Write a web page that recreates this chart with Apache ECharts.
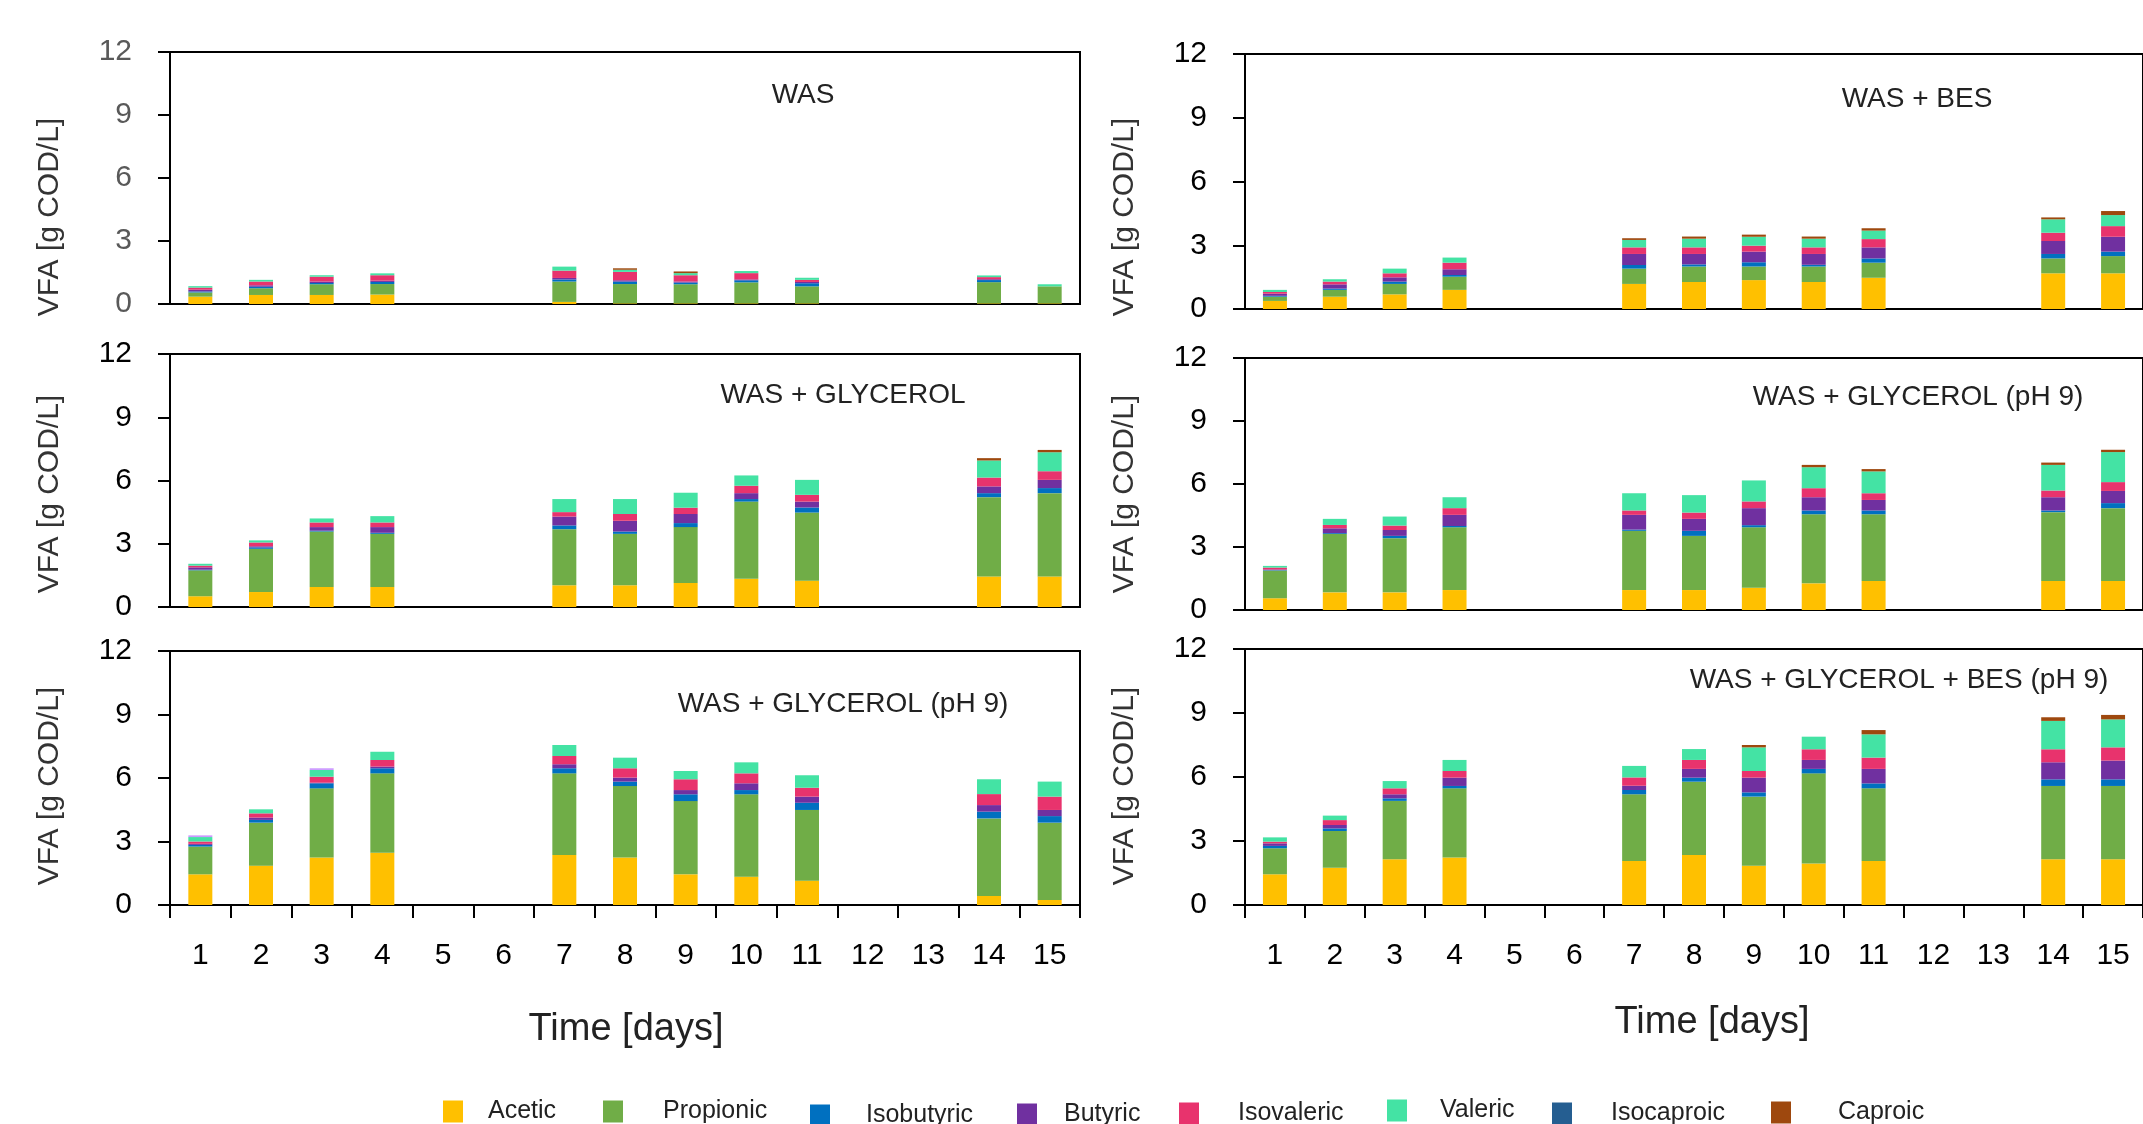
<!DOCTYPE html>
<html>
<head>
<meta charset="utf-8">
<script src="https://cdn.jsdelivr.net/npm/echarts@6/dist/echarts.min.js"></script>
<style>
html,body{margin:0;padding:0;background:#fff;}
#chart{width:2143px;height:1124px;}
</style>
</head>
<body>
<div id="chart"></div>
<script>
// ---------- data ----------
const days = ['1','2','3','4','5','6','7','8','9','10','11','12','13','14','15'];
const panelTitles = ['WAS', 'WAS + BES', 'WAS + GLYCEROL', 'WAS + GLYCEROL (pH 9)', 'WAS + GLYCEROL (pH 9)', 'WAS + GLYCEROL + BES (pH 9)'];
const acidNames = ['Acetic','Propionic','Isobutyric','Butyric','Isovaleric','Valeric','Isocaproic','Caproic'];
const _ = null;
// each acid: one row per panel (order of panelTitles), one value per day [g COD/L]
const acetic = [
  [0.35,0.43,0.43,0.45,_,_,0.10,0.03,0.03,0.03,0.03,_,_,0.03,0.03],
  [0.38,0.58,0.69,0.90,_,_,1.18,1.27,1.36,1.27,1.47,_,_,1.68,1.68],
  [0.51,0.71,0.95,0.95,_,_,1.03,1.03,1.14,1.34,1.25,_,_,1.45,1.45],
  [0.56,0.84,0.84,0.95,_,_,0.95,0.95,1.06,1.27,1.38,_,_,1.38,1.38],
  [1.45,1.86,2.24,2.47,_,_,2.36,2.24,1.45,1.34,1.15,_,_,0.43,0.24],
  [1.44,1.75,2.14,2.23,_,_,2.06,2.34,1.84,1.95,2.06,_,_,2.14,2.14]
];
const propionic = [
  [0.20,0.32,0.51,0.50,_,_,0.97,0.92,0.91,1.00,0.81,_,_,1.01,0.81],
  [0.20,0.32,0.49,0.62,_,_,0.72,0.73,0.64,0.73,0.71,_,_,0.70,0.81],
  [1.23,2.05,2.63,2.52,_,_,2.66,2.44,2.65,3.66,3.23,_,_,3.76,3.95],
  [1.32,2.78,2.58,2.99,_,_,2.82,2.58,2.88,3.29,3.18,_,_,3.28,3.47],
  [1.31,2.03,3.27,3.75,_,_,3.86,3.38,3.46,3.89,3.34,_,_,3.66,3.65],
  [1.22,1.72,2.74,3.24,_,_,3.13,3.44,3.24,4.22,3.41,_,_,3.44,3.44]
];
const isobutyric = [
  [0.05,0.07,0.06,0.10,_,_,0.10,0.12,0.08,0.10,0.15,_,_,0.10,0.00],
  [0.04,0.06,0.11,0.08,_,_,0.17,0.10,0.20,0.08,0.20,_,_,0.21,0.21],
  [0.03,0.07,0.04,0.05,_,_,0.18,0.11,0.19,0.12,0.24,_,_,0.19,0.24],
  [0.02,0.04,0.11,0.06,_,_,0.06,0.24,0.10,0.18,0.18,_,_,0.08,0.24],
  [0.08,0.13,0.24,0.24,_,_,0.24,0.21,0.32,0.20,0.34,_,_,0.32,0.31],
  [0.11,0.12,0.12,0.11,_,_,0.20,0.19,0.20,0.21,0.23,_,_,0.31,0.31]
];
const butyric = [
  [0.08,0.07,0.07,0.06,_,_,0.07,0.06,0.05,0.04,0.06,_,_,0.04,0.00],
  [0.10,0.20,0.20,0.27,_,_,0.52,0.49,0.50,0.51,0.52,_,_,0.61,0.70],
  [0.11,0.05,0.17,0.27,_,_,0.42,0.51,0.43,0.28,0.28,_,_,0.32,0.39],
  [0.03,0.23,0.28,0.53,_,_,0.70,0.57,0.81,0.63,0.50,_,_,0.63,0.58],
  [0.05,0.11,0.03,0.08,_,_,0.19,0.19,0.20,0.32,0.29,_,_,0.31,0.29],
  [0.12,0.16,0.19,0.39,_,_,0.20,0.41,0.69,0.42,0.68,_,_,0.80,0.88]
];
const isovaleric = [
  [0.10,0.18,0.23,0.26,_,_,0.35,0.40,0.30,0.30,0.10,_,_,0.10,0.00],
  [0.08,0.13,0.19,0.31,_,_,0.31,0.31,0.28,0.31,0.39,_,_,0.39,0.50],
  [0.08,0.18,0.22,0.22,_,_,0.21,0.32,0.30,0.35,0.32,_,_,0.42,0.41],
  [0.09,0.16,0.21,0.32,_,_,0.21,0.30,0.32,0.43,0.32,_,_,0.32,0.42],
  [0.11,0.20,0.28,0.31,_,_,0.39,0.44,0.51,0.47,0.42,_,_,0.52,0.63],
  [0.08,0.23,0.28,0.31,_,_,0.39,0.42,0.31,0.50,0.53,_,_,0.61,0.62]
];
const valeric = [
  [0.07,0.08,0.07,0.09,_,_,0.19,0.10,0.10,0.10,0.10,_,_,0.08,0.10],
  [0.10,0.11,0.22,0.24,_,_,0.35,0.41,0.42,0.41,0.40,_,_,0.63,0.52],
  [0.09,0.10,0.19,0.30,_,_,0.62,0.71,0.71,0.49,0.71,_,_,0.81,0.90],
  [0.08,0.29,0.43,0.52,_,_,0.82,0.83,1.00,1.00,1.04,_,_,1.22,1.43],
  [0.21,0.19,0.32,0.39,_,_,0.52,0.50,0.39,0.52,0.59,_,_,0.70,0.71],
  [0.20,0.21,0.34,0.52,_,_,0.54,0.51,1.11,0.59,1.09,_,_,1.33,1.31]
];
const isocaproic = [
  [0,0,0,0,_,_,0,0,0,0,0,_,_,0,0],
  [0,0,0,0,_,_,0,0,0,0,0,_,_,0,0],
  [0,0,0,0,_,_,0,0,0,0,0,_,_,0,0],
  [0,0,0,0,_,_,0,0,0,0,0,_,_,0,0],
  [0,0,0,0,_,_,0,0,0,0,0,_,_,0,0],
  [0,0,0,0,_,_,0,0,0,0,0,_,_,0,0]
];
const caproic = [
  [0,0,0,0,_,_,0,0.07,0.08,0,0,_,_,0,0],
  [0,0,0,0,_,_,0.08,0.10,0.10,0.10,0.11,_,_,0.09,0.19],
  [0,0,0,0,_,_,0,0,0,0,0,_,_,0.11,0.11],
  [0,0,0,0,_,_,0,0,0,0.11,0.11,_,_,0.11,0.11],
  [0,0,0,0,_,_,0,0,0,0,0,_,_,0,0],
  [0,0,0,0,_,_,0,0,0.11,0,0.20,_,_,0.17,0.21]
];
// small unlabeled lavender top segment visible in one panel
const other = [
  [0,0,0,0,_,_,0,0,0,0,0,_,_,0,0],
  [0,0,0,0,_,_,0,0,0,0,0,_,_,0,0],
  [0,0,0,0,_,_,0,0,0,0,0,_,_,0,0],
  [0,0,0,0,_,_,0,0,0,0,0,_,_,0,0],
  [0.08,0,0.08,0,_,_,0,0,0,0,0,_,_,0,0],
  [0,0,0,0,_,_,0,0,0,0,0,_,_,0,0]
];
const yTicks = {min: 0, max: 12, interval: 3};

// ---------- styling / layout ----------
const acidData = [acetic, propionic, isobutyric, butyric, isovaleric, valeric, isocaproic, caproic];
const acidColors = ['#FFC000','#70AD47','#0070C0','#7030A0','#E8336D','#44E3A4','#255E91','#9E480E'];
const FONT = "'Liberation Sans', Arial, sans-serif";
const grids = [
  {left:170, top:52,  width:910, height:252},
  {left:1245, top:54, width:906, height:255},
  {left:170, top:354, width:910, height:253},
  {left:1245, top:358, width:906, height:252},
  {left:170, top:651, width:910, height:254},
  {left:1245, top:649, width:906, height:256}
];
const titlePos = [[803,95],[1917,99],[843,395],[1918,397],[843,704],[1899,680]];
const yNamePos = [[50,217],[1125,217],[50,494],[1125,494],[50,786],[1125,786]];

const option = {
  animation: false,
  backgroundColor: '#fff',
  grid: grids.map(g => Object.assign({show:true, borderColor:'#000', borderWidth:2, containLabel:false}, g)),
  xAxis: grids.map((g,i) => {
    const bottom = i >= 4;
    return {
      type:'category', gridIndex:i, data:days,
      axisLine:{show:true, lineStyle:{color:'#000', width:2}},
      axisTick:{show:bottom, length:13, lineStyle:{color:'#000', width:2}},
      axisLabel:{show:bottom, fontSize:30, color:'#000', margin:36, fontFamily:FONT, interval:0},
      splitLine:{show:false}
    };
  }),
  yAxis: grids.map((g,i) => ({
    type:'value', gridIndex:i, min:yTicks.min, max:yTicks.max, interval:yTicks.interval,
    axisLine:{show:true, lineStyle:{color:'#000', width:2}},
    axisTick:{show:true, length:12, lineStyle:{color:'#000', width:2}},
    axisLabel:{fontSize:30, color: i === 0 ? '#595959' : '#000', margin:38, fontFamily:FONT},
    splitLine:{show:false}
  })),
  legend: [],
  graphic: [],
  series: []
};

// legends: one per item to match spacing
const legendLeft = [443, 603, 810, 1017, 1179, 1387, 1552, 1771];
const legendPad  = [20, 35, 31, 22, 34, 28, 34, 42];
const legendTop  = [1099, 1099, 1103, 1102, 1101, 1098, 1101, 1100];
acidNames.forEach((n,k) => {
  option.legend.push({
    data:[n], left:legendLeft[k], top:legendTop[k], padding:0, icon:'rect', itemWidth:20, itemHeight:22,
    textStyle:{fontSize:25, color:'#222', fontFamily:FONT, padding:[0,0,0,legendPad[k]]}
  });
});

for (let p = 0; p < 6; p++) {
  acidNames.forEach((n,k) => {
    option.series.push({
      name:n, type:'bar', stack:'p'+p, xAxisIndex:p, yAxisIndex:p,
      barWidth:24, data:acidData[k][p], itemStyle:{color:acidColors[k]}
    });
  });
  option.series.push({
    name:'Other', type:'bar', stack:'p'+p, xAxisIndex:p, yAxisIndex:p,
    barWidth:24, data:other[p], itemStyle:{color:'#CC99FF'}
  });
  option.graphic.push({
    type:'text', x:titlePos[p][0], y:titlePos[p][1],
    style:{text:panelTitles[p], font:'28px '+FONT, fill:'#222', textAlign:'center', textVerticalAlign:'middle'}
  });
  option.graphic.push({
    type:'text', x:yNamePos[p][0], y:yNamePos[p][1], rotation:Math.PI/2,
    style:{text:'VFA [g COD/L]', font:'30px '+FONT, fill:'#333', textAlign:'center', textVerticalAlign:'middle'}
  });
}
option.graphic.push({type:'text', x:626, y:1030, style:{text:'Time [days]', font:'38px '+FONT, fill:'#222', textAlign:'center', textVerticalAlign:'middle'}});
option.graphic.push({type:'text', x:1712, y:1023, style:{text:'Time [days]', font:'38px '+FONT, fill:'#222', textAlign:'center', textVerticalAlign:'middle'}});

const chart = echarts.init(document.getElementById('chart'), null, {renderer:'canvas'});
chart.setOption(option);
</script>
</body>
</html>
